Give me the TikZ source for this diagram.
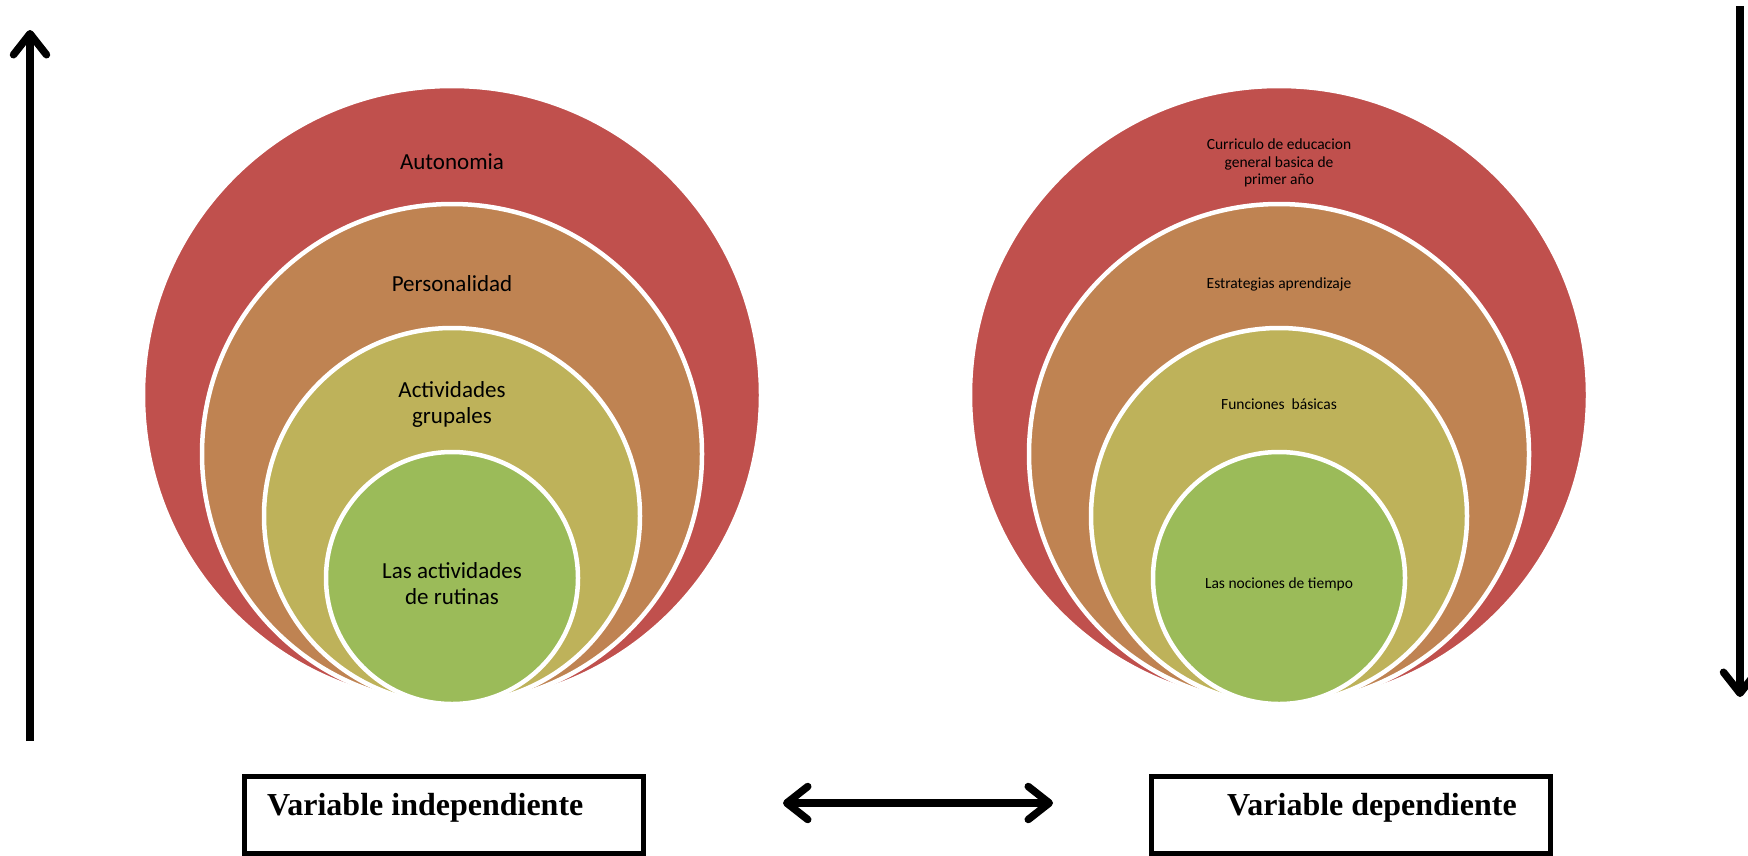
\documentclass[tikz,border=0pt]{standalone}
\usepackage{fontspec}
\setmainfont{Carlito}
\newfontfamily\varfont{Liberation Serif}
\usetikzlibrary{arrows.meta, positioning}
\definecolor{ringred}{HTML}{C0504D}
\definecolor{ringorange}{HTML}{BF8352}
\definecolor{ringyellow}{HTML}{BEB25A}
\definecolor{ringgreen}{HTML}{9BBB59}
\tikzset{
    ring/.style={circle, draw=white, line width=4.5pt, inner sep=0pt, outer sep=0pt, minimum size=#1},
    big/.style={font=\fontsize{23}{26}\selectfont, align=center, inner sep=0pt},
    small/.style={font=\fontsize{15.5}{17.3}\selectfont, align=center, inner sep=0pt},
    varbox/.style={draw, line width=5pt, minimum width=399pt, minimum height=77pt, inner sep=0pt},
    vartext/.style={font=\varfont\bfseries\fontsize{32}{36}\selectfont, inner sep=0pt},
    bar/.style={line width=7.5pt},
    tip/.tip={Straight Barb[length=21pt, width=33pt, line cap=round, line join=round]},
}

\begin{document}
\begin{tikzpicture}[x=1pt, y=-1pt]
    \useasboundingbox (0,0) rectangle (1748,855);

    \node[ring=618pt, fill=ringred] (autoL) at (452,395) {};
    \node[ring=500pt, fill=ringorange] (persL) at (452,454) {};
    \node[ring=376pt, fill=ringyellow] (actL) at (452,516) {};
    \node[ring=252pt, fill=ringgreen] (rutL) at (452,578) {};

    \node[big] (autoT) at (452,162) {Autonomia};
    \node[big] (persT) at (452,284) {Personalidad};
    \node[big] (actT) at (452,404) {Actividades\\grupales};
    \node[big] (rutT) at (452,584) {Las actividades\\de rutinas};

    \node[ring=618pt, fill=ringred] (curR) at (1279,395) {};
    \node[ring=500pt, fill=ringorange] (estR) at (1279,454) {};
    \node[ring=376pt, fill=ringyellow] (funR) at (1279,516) {};
    \node[ring=252pt, fill=ringgreen] (nocR) at (1279,578) {};

    \node[small] (curT) at (1279,163) {Curriculo de educacion\\general basica de\\primer año};
    \node[small] (estT) at (1279,284) {Estrategias aprendizaje};
    \node[small] (funT) at (1279,404) {Funciones\ \ básicas};
    \node[small] (nocT) at (1279,584) {Las nociones de tiempo};

    \node[varbox] (indep) at (443.5,815) {};
    \node[vartext, anchor=base west] (indepT) at (267,815) {Variable independiente};
    \node[varbox] (dep) at (1351,814.5) {};
    \node[vartext, anchor=base west] (depT) at (1227,815) {Variable dependiente};

    \coordinate (upS) at (30,741);
    \coordinate (upE) at (30,30);
    \coordinate (downS) at (1740,6);
    \coordinate (downE) at (1740,697);
    \coordinate (linkL) at (783,803);
    \coordinate (linkR) at (1053,803);

    \draw[bar, -tip] (upS) -- (upE);
    \draw[bar, -tip] (downS) -- (downE);
    \draw[bar, tip-tip] (linkL) -- (linkR);
\end{tikzpicture}
\end{document}
